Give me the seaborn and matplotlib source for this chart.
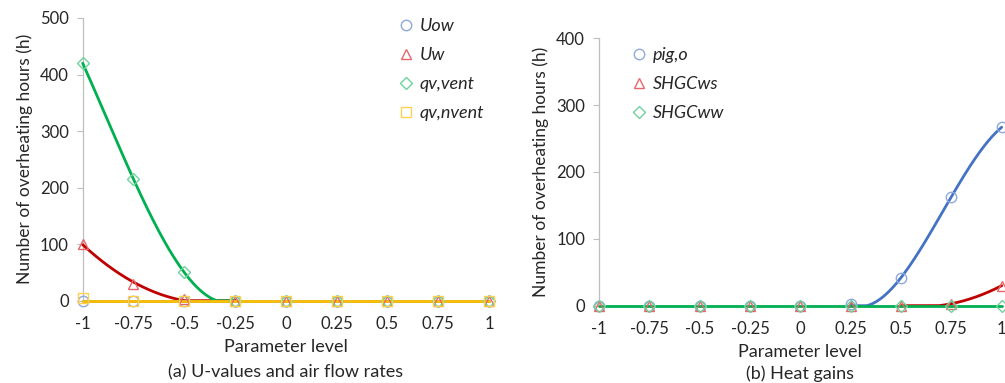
import numpy as np
import pandas as pd
import matplotlib
matplotlib.use("Agg")
import matplotlib.pyplot as plt
from matplotlib.lines import Line2D
import seaborn as sns

# ---------------- data ----------------
levels = [-1, -0.75, -0.5, -0.25, 0, 0.25, 0.5, 0.75, 1]
tick_labels = ["-1", "-0.75", "-0.5", "-0.25", "0", "0.25", "0.5", "0.75", "1"]

# (a) U-values and air flow rates
Uow = [0, 0, 0, 0, 0, 0, 0, 0, 0]
Uw = [100, 30, 3, 0, 0, 0, 0, 0, 0]
qv_vent = [420, 215, 50, 0, 0, 0, 0, 0, 0]
qv_nvent = [5, 0, 0, 0, 0, 0, 0, 0, 0]

# (b) Heat gains
pig_o = [0, 0, 0, 0, 0, 2, 42, 163, 267]
SHGCws = [0, 0, 0, 0, 0, 0, 0, 3, 30]
SHGCww = [0, 0, 0, 0, 0, 0, 0, 0, 0]

# trend-line fits (index window start, stop, polynomial degree)
fit_a = {"Uow": (1, 9, 0), "Uw": (0, 4, 2), "qv_vent": (0, 4, 3), "qv_nvent": (1, 9, 0)}
fit_b = {"pig_o": (5, 9, 3), "SHGCws": (6, 9, 2), "SHGCww": (0, 9, 0)}

W, H = 1005, 383
sns.set_theme(style="white")
plt.rcParams["font.family"] = ["Lato", "DejaVu Sans"]
TXT = "#262626"

fig = plt.figure(figsize=(W / 100, H / 100), dpi=100)
fig.patch.set_facecolor("white")


def trend(x, y, spec, flat):
    s, e, d = spec
    xs = np.asarray(x[s:e], float)
    ys = np.asarray(y[s:e], float)
    g = np.linspace(-1, 1, 401) if flat else np.linspace(xs.min(), xs.max(), 300)
    p = np.polyfit(xs, ys, d)
    return g, np.clip(np.polyval(p, g), 0, None)


def style_axes(ax, ymax, ystep):
    ax.set_xlim(-1, 1)
    ax.set_ylim(0, ymax)
    ax.set_xticks(levels)
    ax.set_xticklabels(tick_labels)
    ax.set_yticks(np.arange(0, ymax + 1, ystep))
    for s in ["top", "right", "bottom"]:
        ax.spines[s].set_visible(False)
    ax.spines["left"].set_color("#bfbfbf")
    ax.spines["left"].set_linewidth(0.9)
    ax.tick_params(axis="y", length=4, width=0.8, color="#bfbfbf", pad=6,
                   labelsize=12, labelcolor=TXT, left=True)
    ax.tick_params(axis="x", length=0, pad=11, labelsize=12, labelcolor=TXT)
    ax.set_facecolor("white")
    ax.grid(False)
    ax.set_ylabel("Number of overheating hours (h)", fontsize=12.5, color=TXT, labelpad=5)
    ax.set_xlabel("Parameter level", fontsize=13, color=TXT, labelpad=5)


def draw_series(ax, y, spec, line_col, mk, mk_col, msize, label, flat=False):
    gx, gy = trend(levels, y, spec, flat)
    df = pd.DataFrame({"x": gx, "y": gy})
    sns.lineplot(data=df, x="x", y="y", ax=ax, color=line_col, lw=2.0,
                 zorder=4 if flat else 3, clip_on=False)
    dm = pd.DataFrame({"x": levels, "y": y})
    sns.lineplot(data=dm, x="x", y="y", ax=ax, linestyle="", marker=mk,
                 markersize=msize, markerfacecolor="none", markeredgecolor=mk_col,
                 markeredgewidth=1.0, color=mk_col, zorder=5, clip_on=False)
    return Line2D([], [], linestyle="", marker=mk, markersize=msize,
                  markerfacecolor="none", markeredgecolor=mk_col,
                  markeredgewidth=1.0, label=label)


blue_l, blue_m = "#4472c4", "#8fa9dc"
red_l, red_m = "#c00000", "#e8666a"
green_l, green_m = "#00b050", "#6fd39b"
yel_l, yel_m = "#ffc000", "#ffd24d"

leg_kw = dict(frameon=False, borderpad=0, borderaxespad=0, handlelength=0.8,
              handletextpad=0.35, labelspacing=0.72,
              prop={"style": "italic", "size": 13}, labelcolor=TXT,
              loc="upper left")

# ---- panel (a)
ax1 = fig.add_axes([82.7 / W, 82.3 / H, (489 - 82.7) / W, (300.7 - 18) / H])
h = []
h.append(draw_series(ax1, Uow, fit_a["Uow"], blue_l, "o", blue_m, 7.5, "Uow", flat=True))
h.append(draw_series(ax1, Uw, fit_a["Uw"], red_l, "^", red_m, 7.5, "Uw"))
h.append(draw_series(ax1, qv_vent, fit_a["qv_vent"], green_l, "D", green_m, 6, "qv,vent"))
h.append(draw_series(ax1, qv_nvent, fit_a["qv_nvent"], yel_l, "s", yel_m, 7.5, "qv,nvent", flat=True))
style_axes(ax1, 500, 100)
ax1.text(0.5, -0.252, "(a) U-values and air flow rates", transform=ax1.transAxes,
         ha="center", va="center", fontsize=13, color=TXT)
ax1.legend(handles=h, bbox_to_anchor=(399 / W, 1 - 18 / H),
           bbox_transform=fig.transFigure, **leg_kw)

# ---- panel (b)
ax2 = fig.add_axes([599 / W, (H - 305.7) / H, (1001.7 - 599) / W, (305.7 - 38.3) / H])
h2 = []
h2.append(draw_series(ax2, pig_o, fit_b["pig_o"], blue_l, "o", blue_m, 7.5, "pig,o"))
h2.append(draw_series(ax2, SHGCws, fit_b["SHGCws"], red_l, "^", red_m, 7.5, "SHGCws"))
h2.append(draw_series(ax2, SHGCww, fit_b["SHGCww"], green_l, "D", green_m, 6, "SHGCww", flat=True))
style_axes(ax2, 400, 100)
ax2.text(0.5, -0.256, "(b) Heat gains", transform=ax2.transAxes,
         ha="center", va="center", fontsize=13, color=TXT)
ax2.legend(handles=h2, bbox_to_anchor=(632 / W, 1 - 47 / H),
           bbox_transform=fig.transFigure, **leg_kw)

fig.savefig("out.png", dpi=100, facecolor="white")
